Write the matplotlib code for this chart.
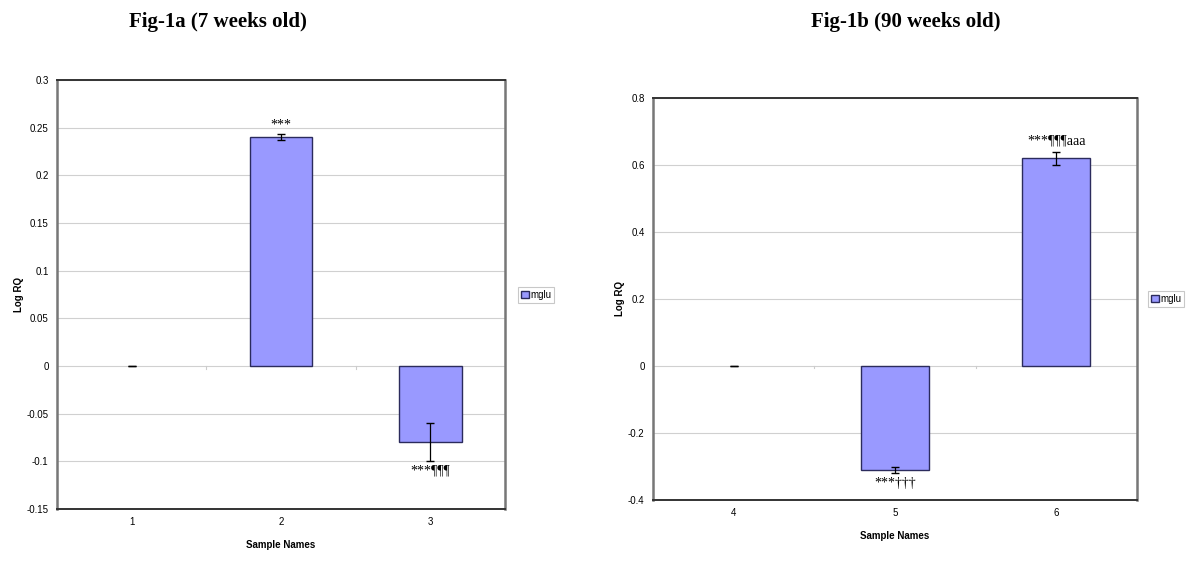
import matplotlib
matplotlib.use("Agg")
import matplotlib.pyplot as plt
from matplotlib.patches import Patch
import numpy as np

# Fig-1a data (7 weeks old)
samples_a = ["1", "2", "3"]
logrq_a = [0.0, 0.24, -0.08]
err_a = [0.0, 0.003, 0.02]
marks_a = ["", "***", "***¶¶¶"]

# Fig-1b data (90 weeks old)
samples_b = ["4", "5", "6"]
logrq_b = [0.0, -0.31, 0.62]
err_b = [0.0, 0.01, 0.02]
marks_b = ["", "***†††", "***¶¶¶aaa"]

bar_color = "#9999ff"
edge_color = "#2b2b5c"


def draw_panel(fig, rect, names, vals, errs, marks, ylim, ystep, title, title_x, legend_pos, mark_offset):
    ax = fig.add_axes(rect)
    x = np.arange(len(names))
    # zero-height bars show only their error cap, like the Excel original
    lw = [1.0 if v != 0 else 0 for v in vals]
    ax.bar(x, vals, width=0.42, color=bar_color, edgecolor=edge_color, linewidth=lw, zorder=3)
    ax.errorbar(x, vals, yerr=errs, fmt="none", ecolor="black", elinewidth=0.9,
                capsize=3, capthick=1.0, zorder=4)
    for xi, v, e, m in zip(x, vals, errs, marks):
        if not m:
            continue
        if v >= 0:
            ax.text(xi, v + e + mark_offset, m, ha="center", va="bottom",
                    fontsize=10, family="Liberation Serif", zorder=5)
        else:
            ax.text(xi, v - e - mark_offset, m, ha="center", va="top",
                    fontsize=10, family="Liberation Serif", zorder=5)

    ax.set_xlim(-0.5, len(names) - 0.5)
    ax.set_ylim(*ylim)
    ticks = np.arange(ylim[0], ylim[1] + ystep / 2, ystep)
    ax.set_yticks(ticks)
    ax.set_yticklabels([f"{t:g}" if abs(t) > 1e-9 else "0" for t in ticks])
    ax.set_xticks(x)
    ax.set_xticklabels(names)
    ax.yaxis.grid(True, color="#d0d0d0", linewidth=0.8, zorder=0)
    ax.set_axisbelow(True)
    ax.tick_params(axis="both", length=0, labelsize=7, pad=6)
    for lab in ax.get_xticklabels() + ax.get_yticklabels():
        lab.set_family("Liberation Sans")
    # small category separators on the zero line
    for b in x[:-1] + 0.5:
        ax.plot([b, b], [0, -0.006 * (ylim[1] - ylim[0])], color="#cccccc", lw=0.8, zorder=1)

    for side in ["top", "bottom"]:
        ax.spines[side].set_color("#333333")
        ax.spines[side].set_linewidth(1.4)
    for side in ["left", "right"]:
        ax.spines[side].set_color("#777777")
        ax.spines[side].set_linewidth(1.8)

    ax.set_xlabel("Sample Names", fontsize=7, fontweight="bold", family="Liberation Sans", labelpad=9)
    ax.set_ylabel("Log RQ", fontsize=7, fontweight="bold", family="Liberation Sans", labelpad=2)

    handle = Patch(facecolor=bar_color, edgecolor=edge_color, linewidth=1.0)
    leg = fig.legend([handle], ["mglu"], loc="center left",
                     bbox_to_anchor=legend_pos, frameon=True, fancybox=False,
                     handlelength=0.8, handleheight=0.8, handletextpad=0.2,
                     borderpad=0.3, prop={"family": "Liberation Sans", "size": 7})
    leg.get_frame().set_edgecolor("#bbbbbb")
    leg.get_frame().set_linewidth(0.8)

    fig.text(title_x, 1 - 22 / 572, title, ha="center", va="center", fontsize=15,
             fontweight="bold", family="Liberation Serif")
    return ax


fig = plt.figure(figsize=(12, 5.72), dpi=100)
W, H = 1200, 572

# left panel: x 57-505, y 80-509
draw_panel(fig, [57 / W, 1 - 509 / H, 448 / W, 429 / H], samples_a, logrq_a, err_a, marks_a,
           (-0.15, 0.3), 0.05, "Fig-1a (7 weeks old)", 218 / W, (513 / W, 1 - 295 / H), 0.003)

# right panel: x 653-1137, y 98-500
draw_panel(fig, [653 / W, 1 - 500 / H, 484 / W, 402 / H], samples_b, logrq_b, err_b, marks_b,
           (-0.4, 0.8), 0.2, "Fig-1b (90 weeks old)", 906 / W, (1143 / W, 1 - 299 / H), 0.012)

fig.savefig("out.png", dpi=100)
